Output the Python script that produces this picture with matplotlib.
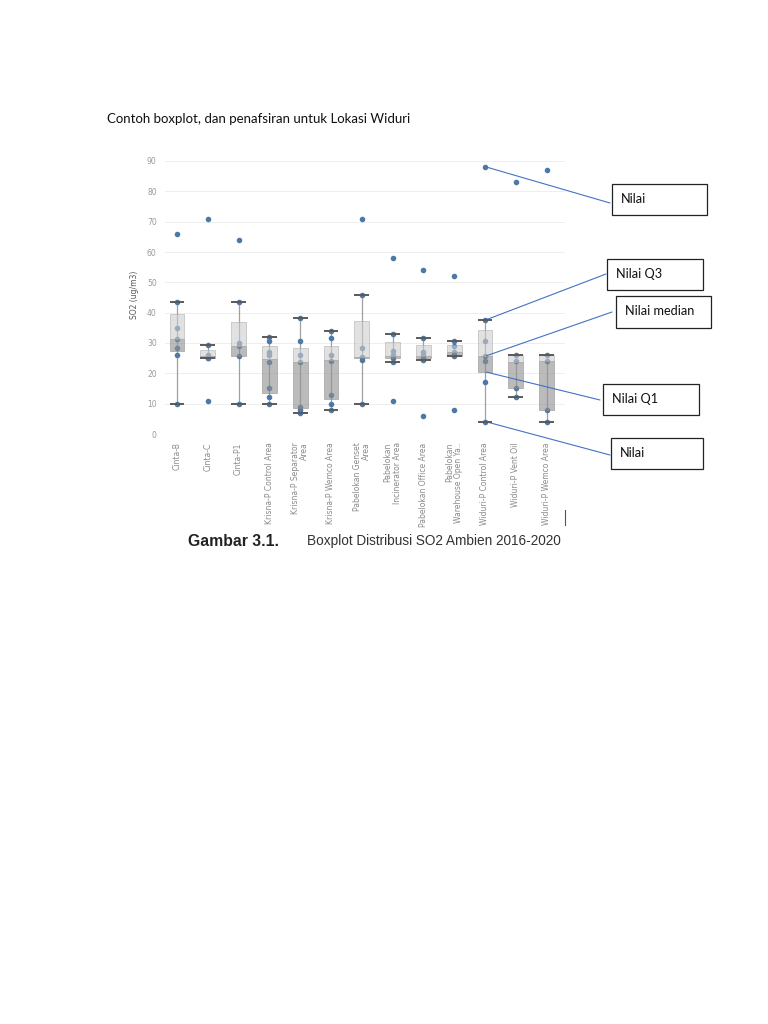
import matplotlib.pyplot as plt
from matplotlib.patches import Rectangle

# data (SO2 ug/m3)
names = ['Cinta-B', 'Cinta-C', 'Cinta-P1', 'Krisna-P Control Area',
         'Krisna-P Separator\nArea', 'Krisna-P Wemco Area',
         'Pabelokan Genset\nArea', 'Pabelokan\nIncinerator Area',
         'Pabelokan Office Area', 'Pabelokan\nWarehouse Open Ya..',
         'Widuri-P Control Area', 'Widuri-P Vent Oil', 'Widuri-P Wemco Area']
whisk_lo = [10, 24.9, 10, 10, 7, 8, 10, 23.8, 24.5, 25.8, 4, 12.2, 4]
q1 = [27.4, 25.2, 25.8, 13.6, 8.5, 11.7, 25.0, 25.0, 25.0, 25.8, 20.4, 15.2, 8]
med = [31.3, 25.8, 29.1, 24.8, 23.9, 24.5, 25.4, 25.6, 25.8, 26.9, 25.8, 23.9, 24]
q3 = [39.5, 27.8, 37.0, 28.9, 28.2, 28.9, 37.3, 30.4, 29.5, 29.3, 34.3, 26, 26]
whisk_hi = [43.6, 29.3, 43.6, 31.9, 38.1, 33.9, 45.9, 33.1, 31.8, 30.5, 37.7, 26, 26]
points = [
    [43.6, 35, 31.3, 28.4, 26, 10],
    [29.3, 26, 25.5, 25, 24.9],
    [43.6, 30, 29, 25.8, 10],
    [31.9, 30.8, 26.9, 26, 23.9, 15.2, 12.2, 10],
    [38.1, 30.5, 26, 23.9, 9, 8, 7],
    [33.9, 31.7, 26, 24, 13, 10, 8],
    [45.9, 28.4, 25.5, 24.5, 10],
    [33.1, 27.2, 26, 25, 23.8],
    [31.8, 27, 26, 25, 24.5],
    [30.5, 29, 27, 26, 25.8],
    [37.7, 30.6, 25.8, 24, 17, 4],
    [26, 24, 15.2, 12.2],
    [26, 24, 8, 4],
]
outliers = [[66], [71, 11], [64], [], [], [], [71], [58, 11], [54, 6], [52, 8],
            [88], [83], [87]]
yticks = [0, 10, 20, 30, 40, 50, 60, 70, 80, 90]

W, H = 768, 1024
fig = plt.figure(figsize=(W / 100, H / 100), dpi=100)
fig.patch.set_facecolor('white')

# page layer in pixel coordinates
pg = fig.add_axes([0, 0, 1, 1], zorder=0)
pg.set_xlim(0, W)
pg.set_ylim(H, 0)
pg.axis('off')

# chart layer
ax = fig.add_axes([165 / W, 1 - 434 / H, 400 / W, 273 / H], zorder=1)
ax.patch.set_alpha(0)
xs = list(range(len(names)))
bw = 0.48

for i in xs:
    ax.scatter([i] * len(points[i]), points[i], s=9, color='#4e79a7', zorder=2, clip_on=False)
    ax.scatter([i] * len(outliers[i]), outliers[i], s=9, color='#4e79a7', zorder=2, clip_on=False)
    ax.vlines(i, whisk_lo[i], whisk_hi[i], color='#a0a0a0', lw=0.9, zorder=1)
    ax.hlines([whisk_lo[i], whisk_hi[i]], i - bw / 2, i + bw / 2, color='#5a5a5a', lw=1.4, zorder=4)

ax.bar(xs, [m - a for m, a in zip(med, q1)], bottom=q1, width=bw, color='#8f8f8f',
       alpha=0.6, edgecolor='#8a8a8a', linewidth=0.6, zorder=3)
ax.bar(xs, [b - m for b, m in zip(q3, med)], bottom=med, width=bw, color='#cdcdcd',
       alpha=0.6, edgecolor='#a8a8a8', linewidth=0.6, zorder=3)

ax.set_xlim(-0.39, 12.6)
ax.set_ylim(0, 90)
ax.set_yticks(yticks)
ax.set_yticklabels([str(v) for v in yticks], color='#9a9a9a', fontsize=5.5)
ax.set_xticks(xs)
ax.set_xticklabels(names, rotation=90, color='#8a8a8a', fontsize=5.5,
                   va='top', ha='center', multialignment='right', linespacing=1.0)
ax.tick_params(length=0, pad=6)
ax.grid(axis='y', color='#eeeeee', lw=0.7)
ax.set_axisbelow(True)
for s in ax.spines.values():
    s.set_visible(False)
ax.set_ylabel('SO2 (ug/m3)', fontsize=5.5, color='#555555')
ax.yaxis.set_label_coords(-0.064, 0.51)

# page text
pg.text(107, 119, 'Contoh boxplot, dan penafsiran untuk Lokasi Widuri',
        fontsize=9.5, family='Lato', va='center', ha='left', color='#111111')
pg.text(188, 541, 'Gambar 3.1.', fontsize=11.3, family='Liberation Sans',
        weight='bold', va='center', ha='left', color='#222222')
pg.text(307, 541, 'Boxplot Distribusi SO2 Ambien 2016-2020', fontsize=9.85,
        family='Liberation Sans', va='center', ha='left', color='#333333')
pg.plot([565, 565], [510, 525], color='#555555', lw=0.8)

# callouts: label, box (x0, y0, x1, y1), data point the line starts from
callouts = [
    ('Nilai', (612, 184, 707, 215), 88, (610, 203)),
    ('Nilai Q3', (607, 259, 703, 290), 37.7, (606, 274)),
    ('Nilai median', (616, 296, 711, 328), 25.8, (612, 312)),
    ('Nilai Q1', (603, 384, 699, 415), 20.4, (600, 400)),
    ('Nilai', (611, 438, 703, 469), 4, (610, 455)),
]
for label, (x0, y0, x1, y1), yv, end in callouts:
    pg.add_patch(Rectangle((x0, y0), x1 - x0, y1 - y0, fill=False,
                           edgecolor='#222222', lw=0.9))
    pg.text(x0 + 9, y0 + 15, label, fontsize=9.2, family='Lato', va='center',
            ha='left', color='#111111')
    ax.annotate('', xy=(10.05, yv), xycoords='data', xytext=end,
                textcoords=pg.transData, annotation_clip=False,
                arrowprops=dict(arrowstyle='-', color='#4472c4', lw=0.8,
                                shrinkA=0, shrinkB=0))

fig.savefig('out.png', dpi=100)
